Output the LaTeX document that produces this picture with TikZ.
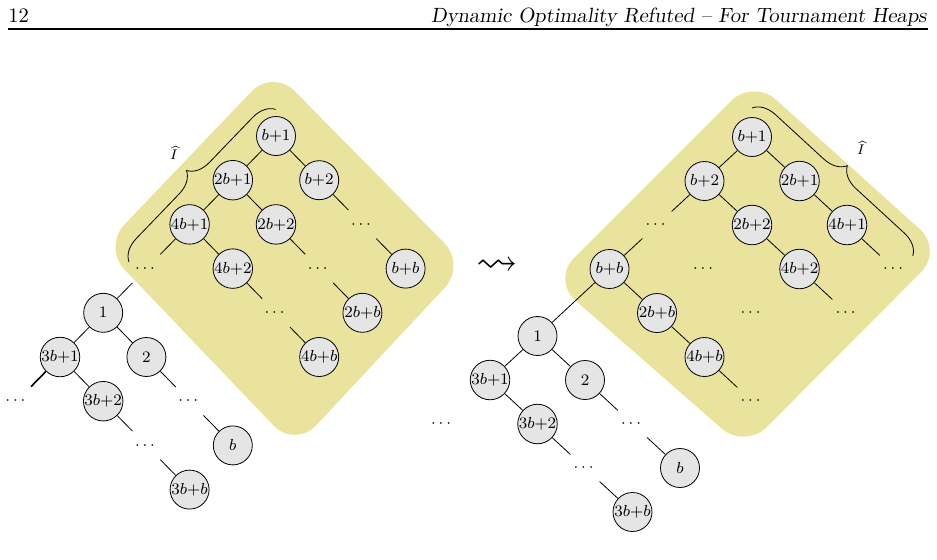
\documentclass[tikz,border=0pt]{standalone}
\usepackage{amsmath,amssymb}
\usetikzlibrary{positioning, decorations.pathreplacing}
\definecolor{hatyellow}{RGB}{234,227,158}

\begin{document}
\begin{tikzpicture}[
    level distance=22.1pt,
    key/.style={circle, draw, fill=gray!20, minimum size=19.5pt, inner sep=0pt, font=\footnotesize},
    gap/.style={circle, minimum size=19.5pt, inner sep=0pt, font=\footnotesize},
    hatbrace/.style={decorate, decoration={brace, amplitude=11pt}},
    hatlabel/.style={inner sep=0pt, font=\scriptsize}
  ]
  \useasboundingbox (0,0) rectangle (468.5pt,279.5pt);

  % running head
  \node[anchor=base west, inner sep=0pt] (pagenum) at (4pt,268.5pt) {\fontsize{10.3}{12}\selectfont 12};
  \node[anchor=base east, inner sep=0pt] (runhead) at (463.5pt,268.5pt) {\fontsize{10.3}{12}\selectfont\slshape Dynamic Optimality Refuted -- For Tournament Heaps};
  \draw[line width=1.3pt] (4pt,265pt) -- (464pt,265pt);

  % shaded parts
  \fill[hatyellow, rounded corners=15.5pt] (136.5pt,245pt) -- (233pt,147pt) -- (147.5pt,55.5pt) -- (51.5pt,156pt) -- cycle;
  \fill[hatyellow, rounded corners=15.5pt] (376.5pt,240pt) -- (471.5pt,154.5pt) -- (372.5pt,55pt) -- (276pt,139.5pt) -- cycle;

  \draw[hatbrace] (64.5pt,148.5pt) -- (138pt,225pt);
  \node[hatlabel] (lhat) at (87pt,203pt) {$\widehat{I}$};
  \draw[hatbrace] (376pt,225.5pt) -- (456.5pt,151.5pt);
  \node[hatlabel] (rhat) at (430.5pt,205.5pt) {$\widehat{I}$};

  % before
  \begin{scope}[sibling distance=43.2pt]
  \node[key] (lb1) at (138pt,211.5pt) {$b{+}1$}
    child {node[key] (l2b1) {$2b{+}1$}
      child {node[key] (l4b1) {$4b{+}1$}
        child {node[gap] (ldots) {$\cdots$}
          child {node[key] (l1) {$1$}
            child {node[key] (l3b1) {$3b{+}1$}
              child[thick] {node[gap] {$\cdots$}}
              child {node[key] (l3b2) {$3b{+}2$}
                child[missing]
                child {node[gap] {$\cdots$}
                  child[missing]
                  child {node[key] (l3bb) {$3b{+}b$}}}}}
            child {node[key] (l2) {$2$}
              child[missing]
              child {node[gap] {$\cdots$}
                child[missing]
                child {node[key] (lb) {$b$}}}}}
          child[missing]}
        child {node[key] (l4b2) {$4b{+}2$}
          child[missing]
          child {node[gap] {$\cdots$}
            child[missing]
            child {node[key] (l4bb) {$4b{+}b$}}}}}
      child {node[key] (l2b2) {$2b{+}2$}
        child[missing]
        child {node[gap] {$\cdots$}
          child[missing]
          child {node[key] (l2bb) {$2b{+}b$}}}}}
    child {node[key] (lb2) {$b{+}2$}
      child[missing]
      child {node[gap] {$\cdots$}
        child[missing]
        child {node[key] (lbb) {$b{+}b$}}}};
  \end{scope}

  \node (step) at (248.5pt,146pt) {\huge$\leadsto$};

  % after
  \begin{scope}[sibling distance=47.5pt, level distance=22pt]
  \node[key] (rb1) at (376pt,211pt) {$b{+}1$}
    child {node[key] (rb2) {$b{+}2$}
      child {node[gap] {$\cdots$}
        child {node[key] (rbb) {$b{+}b$}
          child[missing]
          child {node[key] (r2bb) {$2b{+}b$}
            child[missing]
            child {node[key] (r4bb) {$4b{+}b$}
              child[missing]
              child {node[gap] {$\cdots$}}}}}
        child {node[gap] {$\cdots$} edge from parent[draw=none]}}
      child {node[key] (r2b2) {$2b{+}2$}
        child[missing]
        child {node[key] (r4b2) {$4b{+}2$}
          child {node[gap] {$\cdots$} edge from parent[draw=none]}
          child {node[gap] {$\cdots$}}}}}
    child {node[key] (r2b1) {$2b{+}1$}
      child[missing]
      child {node[key] (r4b1) {$4b{+}1$}
        child[missing]
        child {node[gap] {$\cdots$}}}};

  \node[key, on grid, below left=33.5pt and 36pt of rbb] (r1) {$1$}
    child {node[key] (r3b1) {$3b{+}1$}
      child {node[gap] {$\cdots$} edge from parent[draw=none]}
      child {node[key] (r3b2) {$3b{+}2$}
        child[missing]
        child {node[gap] {$\cdots$}
          child[missing]
          child {node[key] (r3bb) {$3b{+}b$}}}}}
    child {node[key] (r2) {$2$}
      child[missing]
      child {node[gap] {$\cdots$}
        child[missing]
        child {node[key] (rb) {$b$}}}};
  \draw (rbb) -- (r1);
  \end{scope}
\end{tikzpicture}
\end{document}
